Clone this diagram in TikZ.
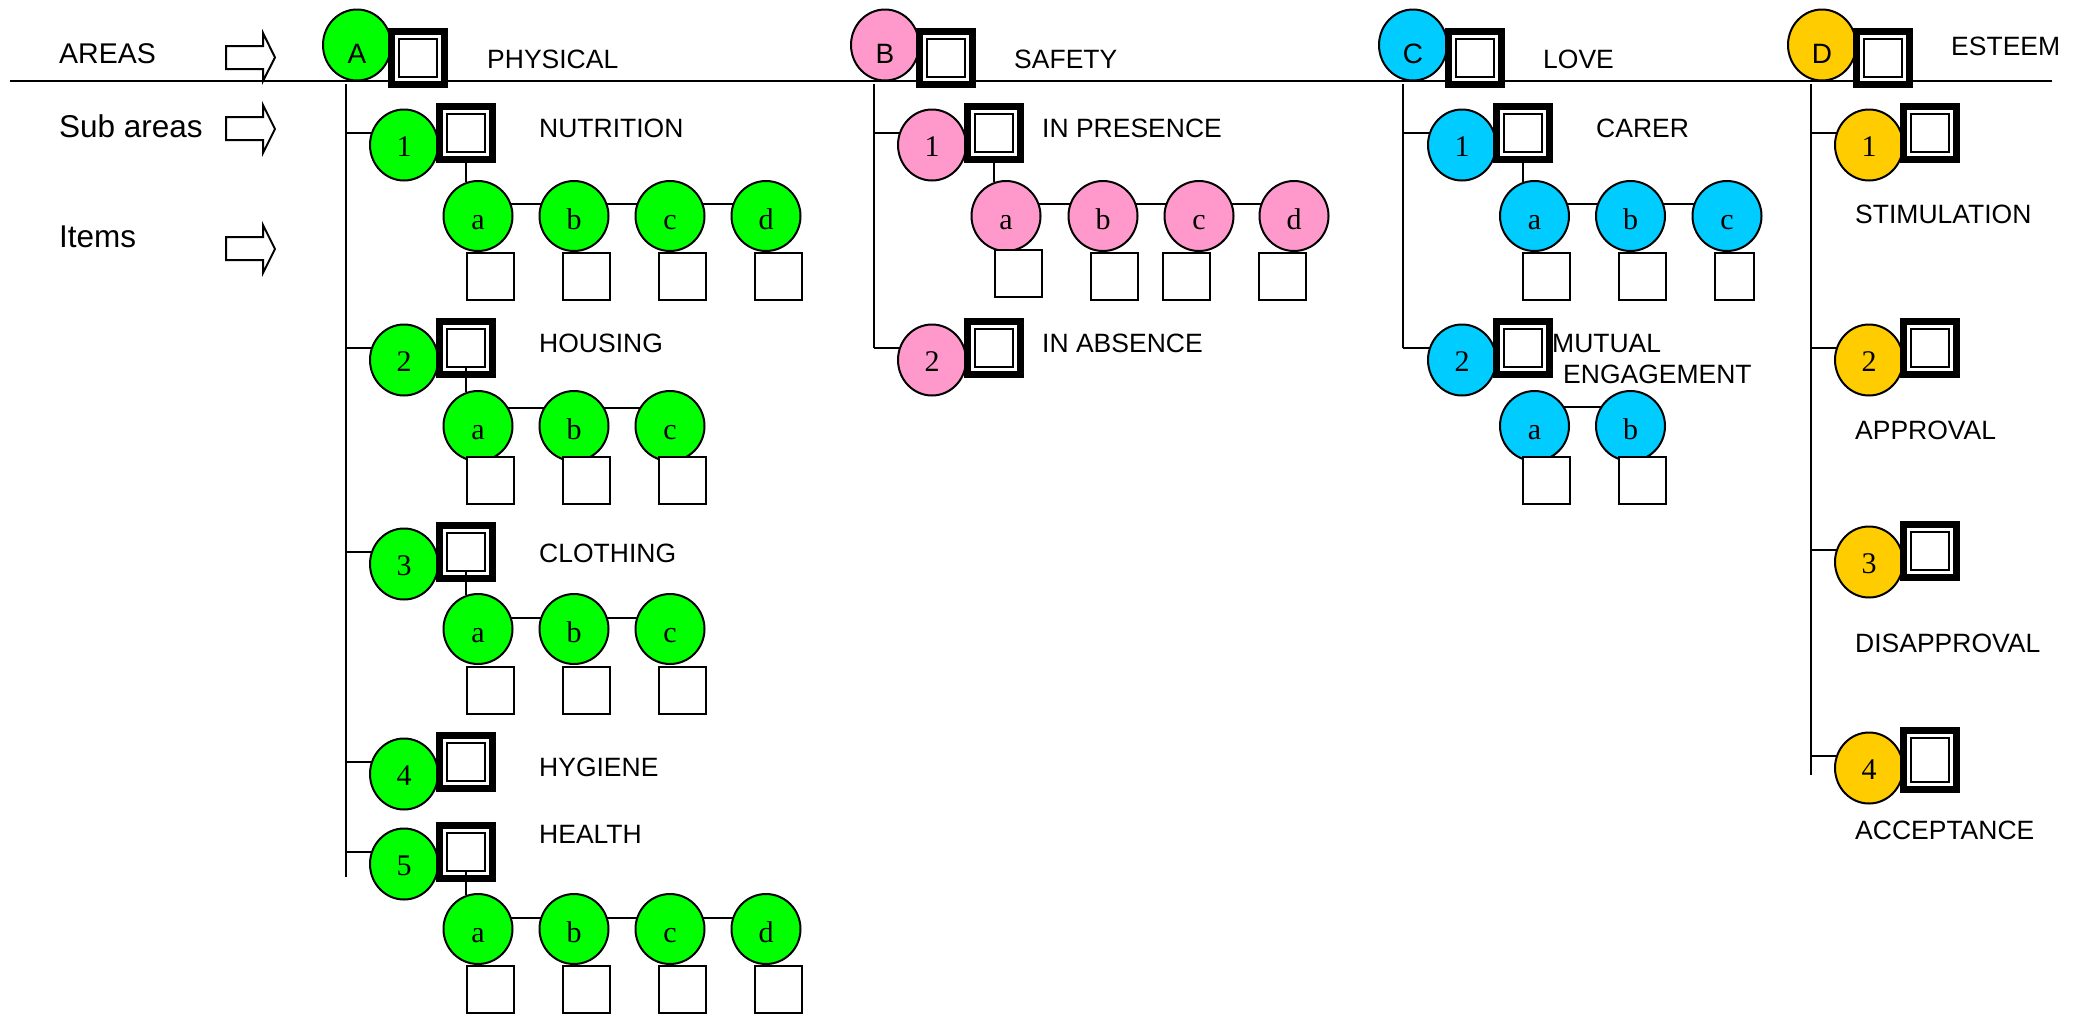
\documentclass[tikz,border=0pt]{standalone}
\usepackage{fontspec}
\newfontfamily\arialf{Liberation Sans}
\newfontfamily\timesf{Liberation Serif}
\usetikzlibrary{shapes.geometric,calc,backgrounds}
\definecolor{cgreen}{RGB}{0,255,0}
\definecolor{cpink}{RGB}{255,153,204}
\definecolor{cblue}{RGB}{0,204,255}
\definecolor{cyell}{RGB}{255,204,0}
\tikzset{
 lbl/.style={anchor=base west, inner sep=0pt, font=\arialf\fontsize{26.5bp}{31bp}\selectfont},
 side/.style={anchor=base west, inner sep=0pt, font=\arialf\fontsize{31.5bp}{36bp}\selectfont},
 areac/.style={ellipse, draw, line width=2bp, fill=#1, minimum width=68bp, minimum height=71bp, inner sep=0pt, text height=36bp, text depth=0bp, font=\arialf\fontsize{28bp}{34bp}\selectfont},
 subc/.style={ellipse, draw, line width=2bp, fill=#1, minimum width=68bp, minimum height=71bp, inner sep=0pt, text height=23bp, text depth=0bp, font=\timesf\fontsize{30bp}{36bp}\selectfont},
 itemc/.style={ellipse, draw, line width=2bp, fill=#1, minimum width=69bp, minimum height=70bp, inner sep=0pt, text height=26bp, text depth=0bp, font=\timesf\fontsize{30bp}{36bp}\selectfont},
 dbox/.style={rectangle, draw, fill=white, line width=7bp, minimum width=53bp, minimum height=53bp, inner sep=0pt,
   path picture={\draw[line width=2.3bp] ([shift={(7.35bp,7.35bp)}]path picture bounding box.south west) rectangle ([shift={(-7.35bp,-7.35bp)}]path picture bounding box.north east);}},
 ibox/.style={rectangle, draw, fill=white, line width=2bp, minimum width=47bp, minimum height=47bp, inner sep=0pt},
 ln/.style={line width=2bp},
 barrow/.style={draw, line width=2bp, fill=white, line join=miter},
}
\begin{document}
\begin{tikzpicture}[x=1bp,y=-1bp]
\useasboundingbox (0,0) rectangle (2080,1014);
% ---------- coordinates for the trunk lines
\coordinate (L1) at (10,81);
\coordinate (L2) at (2052,81);
\coordinate (Av1) at (346,84);  \coordinate (Av2) at (346,877);
\coordinate (Bv1) at (874,84);  \coordinate (Bv2) at (874,348);
\coordinate (Cv1) at (1403,84); \coordinate (Cv2) at (1403,348);
\coordinate (Dv1) at (1811,84); \coordinate (Dv2) at (1811,775);

% ---------- side labels and block arrows
\node[side, font=\arialf\fontsize{28.5bp}{34bp}\selectfont] (tAreas) at (59,63) {AREAS};
\node[side] (tSub) at (59,137) {Sub areas};
\node[side] (tItems) at (59,247) {Items};
\draw[barrow] (226,46) -- (263,46) -- (263,33) -- (275,57.5) -- (263,81) -- (263,69) -- (226,69) -- cycle;
\draw[barrow] (226,117) -- (263,117) -- (263,105) -- (275,129) -- (263,153) -- (263,140) -- (226,140) -- cycle;
\draw[barrow] (226,237) -- (263,237) -- (263,225) -- (275,249) -- (263,273) -- (263,260) -- (226,260) -- cycle;

% ---------- areas
\node[areac=cgreen] (A) at (357,45) {A};
\node[dbox] (Aq) at (418,58) {};
\node[lbl] (tA) at (487,68) {PHYSICAL};
\node[areac=cpink] (B) at (885,45) {B};
\node[dbox] (Bq) at (946,58) {};
\node[lbl] (tB) at (1014,68) {SAFETY};
\node[areac=cblue] (C) at (1413,45) {C};
\node[dbox] (Cq) at (1475,58) {};
\node[lbl] (tC) at (1543,68) {LOVE};
\node[areac=cyell] (D) at (1822,45) {D};
\node[dbox] (Dq) at (1883,58) {};
\node[lbl] (tD) at (1951,55) {ESTEEM};

% ---------- column A : sub areas
\node[subc=cgreen] (A1) at (404,145) {1};
\node[dbox] (A1q) at (466,133) {};
\node[lbl] (tA1) at (539,137) {NUTRITION};
\node[subc=cgreen] (A2) at (404,360) {2};
\node[dbox] (A2q) at (466,348) {};
\node[lbl] (tA2) at (539,352) {HOUSING};
\node[subc=cgreen] (A3) at (404,564) {3};
\node[dbox] (A3q) at (466,552) {};
\node[lbl] (tA3) at (539,562) {CLOTHING};
\node[subc=cgreen] (A4) at (404,774) {4};
\node[dbox] (A4q) at (466,762) {};
\node[lbl] (tA4) at (539,776) {HYGIENE};
\node[subc=cgreen] (A5) at (404,864) {5};
\node[dbox] (A5q) at (466,852) {};
\node[lbl] (tA5) at (539,843) {HEALTH};

% column A items
\foreach \n/\x in {a/478,b/574,c/670,d/766}{
  \node[itemc=cgreen] (A1\n) at (\x,216) {\n};
  \node[ibox] (A1\n q) at (\x+12,276.5) {};
}
\foreach \n/\x in {a/478,b/574,c/670}{
  \node[itemc=cgreen] (A2\n) at (\x,426) {\n};
  \node[ibox] (A2\n q) at (\x+12,480.5) {};
  \node[itemc=cgreen] (A3\n) at (\x,629) {\n};
  \node[ibox] (A3\n q) at (\x+12,690) {};
}
\foreach \n/\x in {a/478,b/574,c/670,d/766}{
  \node[itemc=cgreen] (A5\n) at (\x,929) {\n};
  \node[ibox] (A5\n q) at (\x+12,989.5) {};
}

% ---------- column B
\node[subc=cpink] (B1) at (932,145) {1};
\node[dbox] (B1q) at (994,133) {};
\node[lbl] (tB1) at (1042,137) {IN PRESENCE};
\node[subc=cpink] (B2) at (932,360) {2};
\node[dbox] (B2q) at (994,348) {};
\node[lbl] (tB2) at (1042,352) {IN ABSENCE};
\node[itemc=cpink] (B1a) at (1006,216) {a};
\node[itemc=cpink] (B1b) at (1103,216) {b};
\node[itemc=cpink] (B1c) at (1199,216) {c};
\node[itemc=cpink] (B1d) at (1294,216) {d};
\node[ibox] (B1aq) at (1018.5,273) {};
\node[ibox] (B1bq) at (1114,276.5) {};
\node[ibox] (B1cq) at (1186.5,276.5) {};
\node[ibox] (B1dq) at (1282.5,276.5) {};

% ---------- column C
\node[subc=cblue] (C1) at (1462,145) {1};
\node[dbox] (C1q) at (1523,133) {};
\node[lbl] (tC1) at (1596,137) {CARER};
\node[subc=cblue] (C2) at (1462,360) {2};
\node[dbox] (C2q) at (1523,348) {};
\node[itemc=cblue] (C1a) at (1534.5,216) {a};
\node[itemc=cblue] (C1b) at (1630.5,216) {b};
\node[itemc=cblue] (C1c) at (1727,216) {c};
\node[ibox] (C1aq) at (1546.5,276.5) {};
\node[ibox] (C1bq) at (1642.5,276.5) {};
\node[ibox, minimum width=39bp] (C1cq) at (1734.5,276.5) {};
\node[itemc=cblue] (C2a) at (1534.5,426) {a};
\node[itemc=cblue] (C2b) at (1630.5,426) {b};
\node[ibox] (C2aq) at (1546.5,480) {};
\node[ibox] (C2bq) at (1642.5,480) {};
\node[lbl] (tC2a) at (1552,352) {MUTUAL};
\node[lbl] (tC2b) at (1563,383) {ENGAGEMENT};

% ---------- column D
\node[subc=cyell] (D1) at (1869,145) {1};
\node[dbox] (D1q) at (1930,133) {};
\node[lbl] (tD1) at (1855,223) {STIMULATION};
\node[subc=cyell] (D2) at (1869,360) {2};
\node[dbox] (D2q) at (1930,348) {};
\node[lbl] (tD2) at (1855,439) {APPROVAL};
\node[subc=cyell] (D3) at (1869,562) {3};
\node[dbox] (D3q) at (1930,551) {};
\node[lbl] (tD3) at (1855,652) {DISAPPROVAL};
\node[subc=cyell] (D4) at (1869,768) {4};
\node[dbox, minimum height=59bp] (D4q) at (1930,760) {};
\node[lbl] (tD4) at (1855,839) {ACCEPTANCE};

% ---------- connectors from sub-area boxes to first item
\draw[ln] (A1q.south) -- ($(A1q.center |- A1a.center)+(0,-34)$);
\draw[ln] ($(A2q.center)+(0,19)$) -- ($(A2q.center |- A2a.center)+(0,-34)$);
\draw[ln] ($(A3q.center)+(0,19)$) -- ($(A3q.center |- A3a.center)+(0,-34)$);
\draw[ln] ($(A5q.center)+(0,19)$) -- ($(A5q.center |- A5a.center)+(0,-34)$);
\draw[ln] (B1q.south) -- ($(B1q.center |- B1a.center)+(0,-34)$);
\draw[ln] (C1q.south) -- ($(C1q.center |- C1a.center)+(0,-34)$);

% ---------- lines behind the shapes
\begin{scope}[on background layer]
\fill[white] (0,0) rectangle (2080,1014);
\draw[ln] (L1) -- (L2);
\draw[ln] (Av1) -- (Av2);
\draw[ln] (Bv1) -- (Bv2);
\draw[ln] (Cv1) -- (Cv2);
\draw[ln] (Dv1) -- (Dv2);
\foreach \s in {A1,A2,A3,A4,A5}{
  \draw[ln] ($(Av1 |- \s.center)+(0,-12)$) -- ($(\s.center)+(0,-12)$);
}
\foreach \s in {B1,B2}{
  \draw[ln] ($(Bv1 |- \s.center)+(0,-12)$) -- ($(\s.center)+(0,-12)$);
}
\foreach \s in {C1,C2}{
  \draw[ln] ($(Cv1 |- \s.center)+(0,-12)$) -- ($(\s.center)+(0,-12)$);
}
\foreach \s in {D1,D2,D3,D4}{
  \draw[ln] ($(Dv1 |- \s.center)+(0,-12)$) -- ($(\s.center)+(0,-12)$);
}
% item chains
\draw[ln] ($(A1a.center)+(0,-12)$) -- ($(A1b.center)+(0,-12)$) -- ($(A1c.center)+(0,-12)$) -- ($(A1d.center)+(0,-12)$);
\draw[ln] ($(A2a.center)+(0,-18)$) -- ($(A2b.center)+(0,-18)$) -- ($(A2c.center)+(0,-18)$);
\draw[ln] ($(A3a.center)+(0,-11)$) -- ($(A3b.center)+(0,-11)$) -- ($(A3c.center)+(0,-11)$);
\draw[ln] ($(A5a.center)+(0,-11)$) -- ($(A5b.center)+(0,-11)$) -- ($(A5c.center)+(0,-11)$) -- ($(A5d.center)+(0,-11)$);
\draw[ln] ($(B1a.center)+(0,-12)$) -- ($(B1b.center)+(0,-12)$) -- ($(B1c.center)+(0,-12)$) -- ($(B1d.center)+(0,-12)$);
\draw[ln] ($(C1a.center)+(0,-12)$) -- ($(C1b.center)+(0,-12)$) -- ($(C1c.center)+(0,-12)$);
\draw[ln] ($(C2a.center)+(0,-19)$) -- ($(C2b.center)+(0,-19)$);
\end{scope}
\end{tikzpicture}
\end{document}
